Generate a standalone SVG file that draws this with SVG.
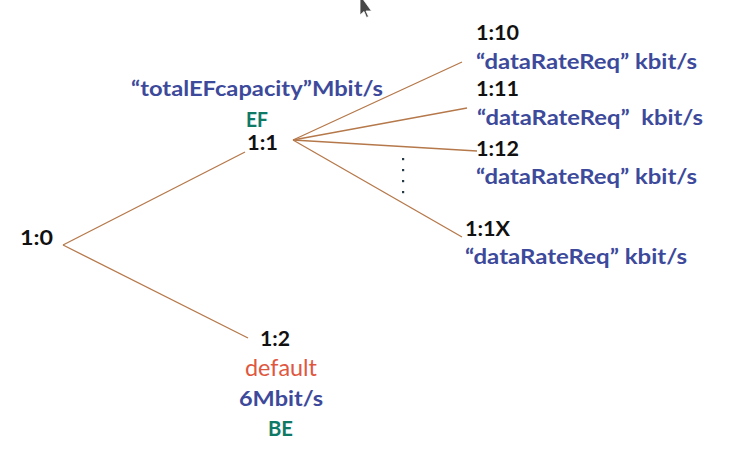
<svg xmlns="http://www.w3.org/2000/svg" width="737" height="465" viewBox="0 0 737 465">
<style>
text{font-family:Lato,"Open Sans","Liberation Sans",sans-serif;font-size:21px;font-weight:bold}
.id{fill:#111}
.rate{fill:#3D4A9B}
.cls{fill:#0E7A66}
.def{fill:#E0573F;font-weight:normal;font-size:23px}
.edge{stroke:#B5784A;stroke-width:1.3;fill:none}
.dot{fill:#263A48}
</style>
<rect width="737" height="465" fill="#fff"/>
<g id="connectors">
<line class="edge" x1="63" y1="245" x2="245" y2="152"/>
<line class="edge" x1="63" y1="245" x2="248" y2="338"/>
<line class="edge" x1="293" y1="140" x2="462" y2="62"/>
<line class="edge" x1="293" y1="140" x2="467" y2="108"/>
<line class="edge" x1="293" y1="140" x2="477" y2="151"/>
<line class="edge" x1="293" y1="140" x2="462" y2="237"/>
</g>
<g id="n10">
<text class="id" x="20" y="245" textLength="33" lengthAdjust="spacingAndGlyphs">1:0</text>
</g>
<g id="n11">
<text class="rate" x="131" y="96" textLength="252" lengthAdjust="spacingAndGlyphs">“totalEFcapacity”Mbit/s</text>
<text class="cls" x="246" y="127" textLength="22" lengthAdjust="spacingAndGlyphs">EF</text>
<text class="id" x="247" y="150" textLength="31" lengthAdjust="spacingAndGlyphs">1:1</text>
</g>
<g id="n110">
<text class="id" x="476" y="40" textLength="43" lengthAdjust="spacingAndGlyphs">1:10</text>
<text class="rate" x="476" y="69" textLength="221" lengthAdjust="spacingAndGlyphs">“dataRateReq” kbit/s</text>
</g>
<g id="n111">
<text class="id" x="476" y="96" textLength="43" lengthAdjust="spacingAndGlyphs">1:11</text>
<text class="rate" x="477" y="125" textLength="226" lengthAdjust="spacingAndGlyphs" xml:space="preserve">“dataRateReq”  kbit/s</text>
</g>
<g id="n112">
<text class="id" x="476" y="156" textLength="43" lengthAdjust="spacingAndGlyphs">1:12</text>
<text class="rate" x="476" y="184" textLength="221" lengthAdjust="spacingAndGlyphs">“dataRateReq” kbit/s</text>
</g>
<g id="ellipsis">
<rect class="dot" x="402" y="158" width="2.2" height="2.2"/>
<rect class="dot" x="402" y="169" width="2.2" height="2.2"/>
<rect class="dot" x="402" y="180" width="2.2" height="2.2"/>
<rect class="dot" x="402" y="191" width="2.2" height="2.2"/>
</g>
<g id="n11X">
<text class="id" x="465" y="236" textLength="45" lengthAdjust="spacingAndGlyphs">1:1X</text>
<text class="rate" x="465" y="264" textLength="222" lengthAdjust="spacingAndGlyphs">“dataRateReq” kbit/s</text>
</g>
<g id="n12">
<text class="id" x="260" y="346" textLength="30" lengthAdjust="spacingAndGlyphs">1:2</text>
<text class="def" x="245" y="376" textLength="72" lengthAdjust="spacingAndGlyphs">default</text>
<text class="rate" x="239" y="406" textLength="84" lengthAdjust="spacingAndGlyphs">6Mbit/s</text>
<text class="cls" x="268" y="436" textLength="25" lengthAdjust="spacingAndGlyphs">BE</text>
</g>
<g id="cursor">
<polygon points="360,-5 360,15 364,11.5 366.5,17.5 368.5,16.5 366,11 371.5,11" fill="#474747" stroke="#fff" stroke-width="0.8"/>
</g>
</svg>
